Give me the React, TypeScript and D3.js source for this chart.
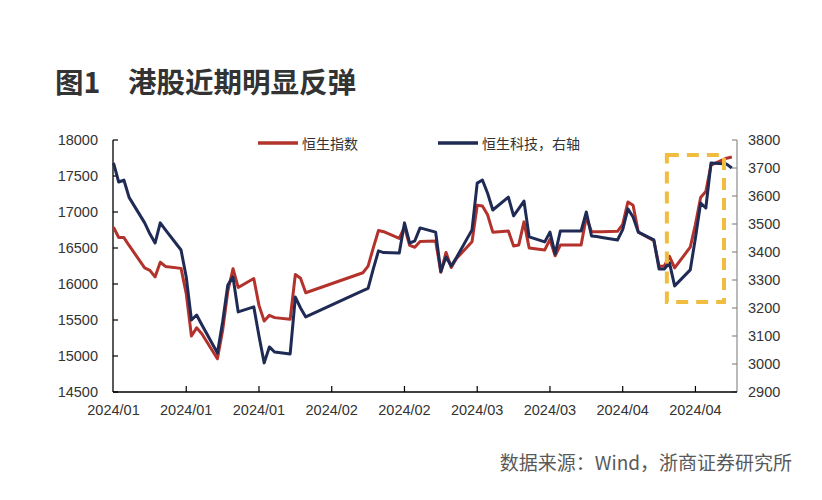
import React from "react";
import * as d3 from "d3";

const dates: string[] = [
  "2024-01-02","2024-01-03","2024-01-04","2024-01-05","2024-01-08","2024-01-09","2024-01-10","2024-01-11","2024-01-12","2024-01-15","2024-01-16","2024-01-17","2024-01-18","2024-01-19","2024-01-22","2024-01-23","2024-01-24","2024-01-25","2024-01-26","2024-01-29","2024-01-30","2024-01-31",
  "2024-02-01","2024-02-02","2024-02-05","2024-02-06","2024-02-07","2024-02-08","2024-02-19","2024-02-20","2024-02-21","2024-02-22","2024-02-23","2024-02-26","2024-02-27","2024-02-28","2024-02-29",
  "2024-03-01","2024-03-04","2024-03-05","2024-03-06","2024-03-07","2024-03-08","2024-03-11","2024-03-12","2024-03-13","2024-03-14","2024-03-15","2024-03-18","2024-03-19","2024-03-20","2024-03-21","2024-03-22","2024-03-25","2024-03-26","2024-03-27","2024-03-28","2024-03-29",
  "2024-04-01","2024-04-02","2024-04-03","2024-04-04","2024-04-05","2024-04-08","2024-04-09","2024-04-10","2024-04-11","2024-04-12","2024-04-15","2024-04-16","2024-04-17","2024-04-18","2024-04-19","2024-04-22","2024-04-23","2024-04-24","2024-04-25","2024-04-26","2024-04-29","2024-04-30",
];

const hsi: number[] = [
  16789,16646,16645,16535,16224,16190,16098,16302,16244,16217,15866,15277,15391,15308,14961,15353,15899,16212,15952,16077,15703,15485,
  15566,15533,15510,16133,16081,15878,16156,16248,16503,16743,16726,16634,16790,16536,16511,
  16589,16596,16162,16438,16229,16353,16587,17093,17082,16961,16720,16737,16529,16543,16863,16499,16473,16619,16392,16541,16541,
  16541,16931,16725,16725,16724,16732,16828,17139,17095,16721,16601,16248,16251,16385,16224,16511,16828,17201,17284,17651,17747,17763,
];

const hstech: number[] = [
  3718,3650,3657,3595,3504,3465,3432,3504,3479,3407,3311,3157,3175,3140,3039,3150,3282,3311,3186,3204,3100,3004,
  3061,3043,3036,3239,3200,3168,3262,3270,3340,3404,3398,3396,3504,3432,3440,
  3486,3471,3330,3382,3350,3380,3479,3646,3657,3610,3550,3596,3529,3555,3582,3454,3436,3471,3393,3475,3475,
  3475,3543,3457,3455,3452,3443,3480,3554,3525,3471,3443,3339,3339,3361,3279,3336,3450,3575,3557,3718,3714,3700,
];

const leftTicks: number[] = [14500, 15000, 15500, 16000, 16500, 17000, 17500, 18000];
const rightTicks: number[] = [2900, 3000, 3100, 3200, 3300, 3400, 3500, 3600, 3700, 3800];
const xTickDates: string[] = ["2024-01-02","2024-01-16","2024-01-30","2024-02-13","2024-02-27","2024-03-12","2024-03-26","2024-04-09","2024-04-23"];
const xDomain: string[] = ["2024-01-02", "2024-05-01"];
const seriesNames: string[] = ["恒生指数", "恒生科技，右轴"];
const highlightDates: string[] = ["2024-04-17T12:00", "2024-04-28T12:00"];
const highlightValues: number[] = [3221, 3746];

const title1 = "图1";
const title2 = "港股近期明显反弹";
const source = "数据来源：Wind，浙商证券研究所";

const parse = d3.timeParse("%Y-%m-%d");
const parseT = d3.timeParse("%Y-%m-%dT%H:%M");
const fmt = d3.timeFormat("%Y/%m");

const RED = "#B3332C";
const NAVY = "#1F2B55";
const NUM_FONT = "'Liberation Sans', Arial, sans-serif";
const CJK_FONT = "'Noto Sans CJK SC', 'Noto Sans', sans-serif";

export default function App() {
  const X0 = 113, X1 = 737, Y0 = 140, Y1 = 392;
  const x = d3.scaleTime().domain(xDomain.map((d) => parse(d) as Date)).range([113.5, 737]);
  const yL = d3.scaleLinear().domain([14500, 18000]).range([Y1, Y0]);
  const yR = d3.scaleLinear().domain([2900, 3800]).range([Y1, Y0]);
  const pd = dates.map((d) => parse(d) as Date);

  const lineL = d3.line<number>().x((_, i) => x(pd[i])).y((v) => yL(v));
  const lineR = d3.line<number>().x((_, i) => x(pd[i])).y((v) => yR(v));

  const hx0 = x(parseT(highlightDates[0]) as Date);
  const hx1 = x(parseT(highlightDates[1]) as Date);
  const hy0 = yR(highlightValues[1]);
  const hy1 = yR(highlightValues[0]);

  return (
    <svg width={822} height={500} style={{ position: "absolute", left: 0, top: 0, background: "#fff" }}>
      <rect x={0} y={0} width={822} height={500} fill="#fff" />
      <text x={55} y={93} fontFamily={CJK_FONT} fontWeight="bold" fontSize={28.5} fill="#333">{title1}</text>
      <text x={128} y={93} fontFamily={CJK_FONT} fontWeight="bold" fontSize={28.5} fill="#333">{title2}</text>

      {/* left axis */}
      <line x1={X0} x2={X0} y1={Y0} y2={Y1} stroke="#000" strokeWidth={1.3} />
      {leftTicks.map((t) => (
        <g key={"l" + t}>
          <line x1={X0} x2={X0 + 5} y1={yL(t)} y2={yL(t)} stroke="#000" strokeWidth={1.2} />
          <text x={98} y={yL(t)} textAnchor="end" dominantBaseline="central" fontFamily={NUM_FONT} fontSize={14.5} fill="#333">{t}</text>
        </g>
      ))}

      {/* right axis */}
      <line x1={X1} x2={X1} y1={Y0} y2={Y1} stroke="#8c8c8c" strokeWidth={1.2} />
      {rightTicks.map((t) => (
        <g key={"r" + t}>
          <line x1={X1 - 5} x2={X1} y1={yR(t)} y2={yR(t)} stroke="#8c8c8c" strokeWidth={1.2} />
          <text x={748} y={yR(t)} textAnchor="start" dominantBaseline="central" fontFamily={NUM_FONT} fontSize={14.5} fill="#333">{t}</text>
        </g>
      ))}

      {/* x axis */}
      <line x1={X0} x2={X1} y1={Y1} y2={Y1} stroke="#000" strokeWidth={1.3} />
      {xTickDates.map((d, i) => {
        const xx = x(parse(d) as Date);
        return (
          <g key={"x" + d}>
            {i > 0 && <line x1={xx} x2={xx} y1={Y1} y2={Y1 - 6} stroke="#000" strokeWidth={1.2} />}
            <text x={xx} y={410} textAnchor="middle" dominantBaseline="central" fontFamily={NUM_FONT} fontSize={14.5} fill="#333">{fmt(parse(d) as Date)}</text>
          </g>
        );
      })}

      {/* series */}
      <path d={lineL(hsi) || ""} fill="none" stroke={RED} strokeWidth={3} strokeLinejoin="round" />
      <path d={lineR(hstech) || ""} fill="none" stroke={NAVY} strokeWidth={3} strokeLinejoin="round" />

      {/* highlight box */}
      <rect x={hx0} y={hy0} width={hx1 - hx0} height={hy1 - hy0} fill="none" stroke="#F0BD40" strokeWidth={4} strokeDasharray="12,8" />

      {/* legend */}
      <line x1={258} x2={298} y1={143} y2={143} stroke={RED} strokeWidth={3.5} />
      <text x={302} y={143} dominantBaseline="central" fontFamily={CJK_FONT} fontSize={14} fill="#333">{seriesNames[0]}</text>
      <line x1={438} x2={478} y1={143} y2={143} stroke={NAVY} strokeWidth={3.5} />
      <text x={482} y={143} dominantBaseline="central" fontFamily={CJK_FONT} fontSize={14} fill="#333">{seriesNames[1]}</text>

      <text x={792} y={461} textAnchor="end" dominantBaseline="central" fontFamily={CJK_FONT} fontSize={19} fill="#595959">{source}</text>
    </svg>
  );
}
